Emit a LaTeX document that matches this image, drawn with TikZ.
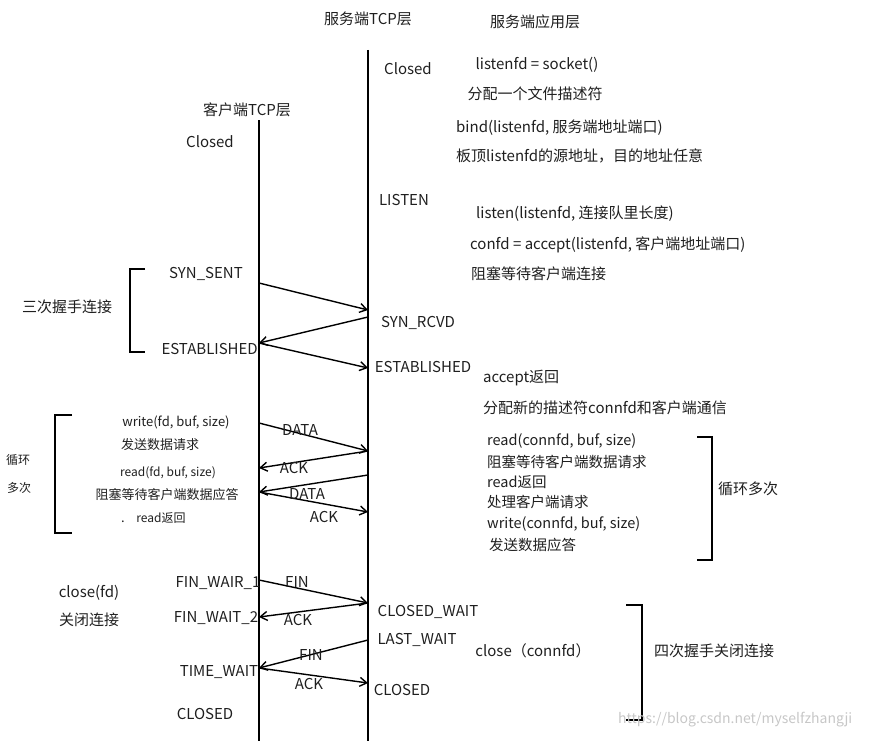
\documentclass[tikz,border=0pt]{standalone}
\usepackage{fontspec}
\setmainfont{Noto Sans CJK SC}
\usetikzlibrary{arrows.meta}
\begin{document}
\begin{tikzpicture}[x=1pt,y=-1pt,
  lbl/.style={font=\fontsize{15}{17}\selectfont, inner sep=0pt, text=black!88},
  sml/.style={font=\fontsize{13}{15}\selectfont, inner sep=0pt, text=black!88},
  srv/.style={font=\fontsize{14.5}{16}\selectfont, inner sep=0pt, text=black!88},
  tiny/.style={font=\fontsize{12}{14}\selectfont, inner sep=0pt, text=black!88},
  life/.style={line width=1.8pt},
  msg/.style={line width=1.4pt, -{Straight Barb[length=7pt,width=9pt]}},
  brk/.style={line width=1.8pt},
  wm/.style={font=\fontsize{14}{16}\selectfont, inner sep=0pt, text=black!22}]
\useasboundingbox (0,0) rectangle (869,741);
% lifelines
\coordinate (ctop) at (259,120); \coordinate (cbot) at (259,741);
\coordinate (stop) at (368,50);  \coordinate (sbot) at (368,741);
\draw[life] (ctop) -- (cbot);
\draw[life] (stop) -- (sbot);
% headers
\node[lbl] (hs) at (368,19) {服务端TCP层};
\node[lbl] (ha) at (535,22) {服务端应用层};
\node[lbl] (hc) at (247,110) {客户端TCP层};
% client states
\node[lbl] (cclosed) at (210,142) {Closed};
\node[lbl] (csyn) at (206,274) {SYN\_SENT};
\node[lbl, anchor=east] (cest) at (258,349) {ESTABLISHED};
\node[lbl] (cfw1) at (218,583) {FIN\_WAIR\_1};
\node[lbl] (cfw2) at (216,618) {FIN\_WAIT\_2};
\node[lbl] (ctw) at (219,672) {TIME\_WAIT};
\node[lbl] (ccl) at (205,714) {CLOSED};
% server states
\node[lbl] (sclosed) at (408,69) {Closed};
\node[lbl] (slisten) at (404,200) {LISTEN};
\node[lbl] (ssyn) at (418,323) {SYN\_RCVD};
\node[lbl] (sest) at (423,367) {ESTABLISHED};
\node[lbl] (scw) at (428,612) {CLOSED\_WAIT};
\node[lbl] (slw) at (417,640) {LAST\_WAIT};
\node[lbl] (scl) at (402,690) {CLOSED};
% server application texts
\node[lbl] (a1) at (537,65) {listenfd = socket()};
\node[lbl] (a2) at (535,94) {分配一个文件描述符};
\node[lbl, anchor=west] (a3) at (456,128) {bind(listenfd, 服务端地址端口)};
\node[lbl, anchor=west] (a4) at (456,156) {板顶listenfd的源地址，目的地址任意};
\node[lbl, anchor=west] (a5) at (476,214) {listen(listenfd, 连接队里长度)};
\node[lbl, anchor=west] (a6) at (470,245) {confd = accept(listenfd, 客户端地址端口)};
\node[lbl, anchor=west] (a7) at (471,274) {阻塞等待客户端连接};
\node[lbl, anchor=west] (a8) at (483,378) {accept返回};
\node[lbl, anchor=west] (a9) at (483,408) {分配新的描述符connfd和客户端通信};
\node[srv, anchor=west] (r1) at (487,441) {read(connfd, buf, size)};
\node[srv, anchor=west] (r2) at (487,462) {阻塞等待客户端数据请求};
\node[srv, anchor=west] (r3) at (487,482) {read返回};
\node[srv, anchor=west] (r4) at (487,502) {处理客户端请求};
\node[srv, anchor=west] (r5) at (487,524) {write(connfd, buf, size)};
\node[srv, anchor=west] (r6) at (489,545) {发送数据应答};
\node[lbl] (cc) at (533,651) {close（connfd）};
% client application texts
\node[sml] (w1) at (176,422) {write(fd, buf, size)};
\node[sml] (w2) at (160,445) {发送数据请求};
\node[tiny] (w3) at (168,473) {read(fd, buf, size)};
\node[sml] (w4) at (167,495) {阻塞等待客户端数据应答};
\node[tiny] (w5) at (161,518) {read返回};
\node[sml] (wdot) at (123,522) {.};
\node[lbl] (cf1) at (89,593) {close(fd)};
\node[lbl] (cf2) at (89,620) {关闭连接};
% group labels
\node[lbl] (g1) at (67,307) {三次握手连接};
\node[tiny] (g2a) at (18,460) {循环};
\node[tiny] (g2b) at (19,488) {多次};
\node[lbl] (g3) at (748,489) {循环多次};
\node[lbl] (g4) at (714,651) {四次握手关闭连接};
% brackets
\coordinate (b1a) at (145,269); \coordinate (b1b) at (130,269);
\coordinate (b1c) at (130,352); \coordinate (b1d) at (145,352);
\draw[brk] (b1a) -- (b1b) -- (b1c) -- (b1d);
\coordinate (b2a) at (72,415); \coordinate (b2b) at (55,415);
\coordinate (b2c) at (55,533); \coordinate (b2d) at (72,533);
\draw[brk] (b2a) -- (b2b) -- (b2c) -- (b2d);
\coordinate (b3a) at (697,437); \coordinate (b3b) at (712,437);
\coordinate (b3c) at (712,560); \coordinate (b3d) at (697,560);
\draw[brk] (b3a) -- (b3b) -- (b3c) -- (b3d);
\coordinate (b4a) at (626,605); \coordinate (b4b) at (642,605);
\coordinate (b4c) at (642,720); \coordinate (b4d) at (626,720);
\draw[brk] (b4a) -- (b4b) -- (b4c) -- (b4d);
% message endpoints
\coordinate (c1) at (259,283); \coordinate (s1) at (368,310);
\coordinate (s2) at (368,317); \coordinate (c2) at (259,343);
\coordinate (s3) at (368,368);
\coordinate (c4) at (259,423); \coordinate (s4) at (368,451);
\coordinate (c5) at (259,468);
\coordinate (s6) at (368,475); \coordinate (c6) at (259,492);
\coordinate (s7) at (368,512);
\coordinate (c8) at (259,580); \coordinate (s8) at (368,603);
\coordinate (c9) at (259,617);
\coordinate (s10) at (368,640); \coordinate (c10) at (259,668);
\coordinate (s11) at (368,683);
\draw[msg] (c1) -- (s1);
\draw[msg] (s2) -- (c2);
\draw[msg] (c2) -- (s3);
\draw[msg] (c4) -- (s4);
\draw[msg] (s4) -- (c5);
\draw[msg] (s6) -- (c6);
\draw[msg] (c6) -- (s7);
\draw[msg] (c8) -- (s8);
\draw[msg] (s8) -- (c9);
\draw[msg] (s10) -- (c10);
\draw[msg] (c10) -- (s11);
% message labels
\node[lbl] (m1) at (300,430) {DATA};
\node[lbl] (m2) at (294,468) {ACK};
\node[lbl] (m3) at (307,494) {DATA};
\node[lbl] (m4) at (324,517) {ACK};
\node[lbl] (m5) at (297,582) {FIN};
\node[lbl] (m6) at (298,620) {ACK};
\node[lbl] (m7) at (311,655) {FIN};
\node[lbl] (m8) at (309,684) {ACK};
% watermark
\node[wm, anchor=west] (wmk) at (618,720) {https://blog.csdn.net/myselfzhangji};
\end{tikzpicture}
\end{document}
